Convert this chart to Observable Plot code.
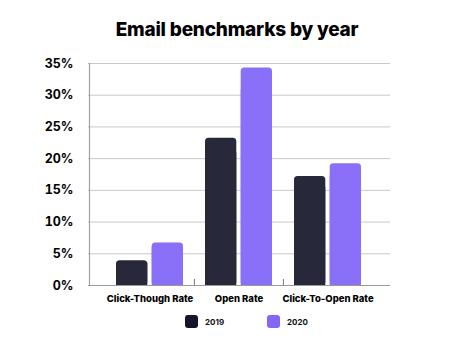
<!DOCTYPE html>
<html>
<head>
<meta charset="utf-8">
<script src="https://cdn.jsdelivr.net/npm/d3@7"></script>
<script src="https://cdn.jsdelivr.net/npm/@observablehq/plot@0.6"></script>
<style>
  html, body { margin: 0; padding: 0; background: #fff; }
  #wrap { width: 474px; height: 354px; position: relative; font-family: Inter, "Open Sans", sans-serif; }
  #title { height: 45px; box-sizing: border-box; padding-top: 19px; text-align: center; font-size: 19px; font-weight: 800; color: #000; letter-spacing: -0.2px; line-height: 21px; }
  #legend { position: absolute; top: 315px; left: 0; width: 474px; height: 14px; }
  .sw { position: absolute; top: 0; width: 13px; height: 13px; border-radius: 3px; }
  .lt { position: absolute; top: 2px; font-size: 8px; font-weight: 700; color: #111; line-height: 10px; }
  svg { display: block; }
</style>
</head>
<body>
<div id="wrap">
  <div id="title">Email benchmarks by year</div>
  <div id="chart"></div>
  <div id="legend"></div>
</div>
<script>
const categories = ["Click-Though Rate", "Open Rate", "Click-To-Open Rate"];
const years = ["2019", "2020"];
const values2019 = [3.9, 23.2, 17.2];
const values2020 = [6.7, 34.3, 19.2];
const yTicks = [0, 5, 10, 15, 20, 25, 30, 35];
const colors = ["#272839", "#8a6ff8"];
const legendColors = ["#16142a", "#8566f7"];

const rows2019 = categories.map((c, i) => ({category: c, year: "2019", value: values2019[i]}));
const rows2020 = categories.map((c, i) => ({category: c, year: "2020", value: values2020[i]}));

const half = 35.7;
const chart = Plot.plot({
  width: 474,
  height: 262,
  marginLeft: 88,
  marginRight: 84,
  marginTop: 18,
  marginBottom: 22,
  style: {fontFamily: "Inter, 'Open Sans', sans-serif", color: "#000", background: "#fff"},
  x: {domain: categories, paddingInner: 0.245, paddingOuter: 0.314, label: null},
  y: {domain: [0, 35], label: null},
  marks: [
    Plot.ruleY(yTicks.slice(1), {stroke: "#c9c9c9", strokeWidth: 1}),
    Plot.barY(rows2019, {x: "category", y: "value", fill: colors[0], insetRight: half, rx: 3.5}),
    Plot.barY(rows2019, {x: "category", y: d => d.value * 0.9, fill: colors[0], insetRight: half}),
    Plot.barY(rows2020, {x: "category", y: "value", fill: colors[1], insetLeft: half, rx: 3.5}),
    Plot.barY(rows2020, {x: "category", y: d => d.value * 0.9, fill: colors[1], insetLeft: half}),
    Plot.ruleX(categories.slice(1), {x: d => d, dx: -44.6, insetTop: 216, stroke: "#777"}),
    Plot.ruleY([0], {stroke: "#9a9a9a", strokeWidth: 1.2}),
    Plot.axisX({tickSize: 0, tickPadding: 10, fontSize: 9.5, fontWeight: 800, label: null}),
    Plot.axisY({ticks: yTicks, tickFormat: d => d + "%", tickSize: 0, tickPadding: 15, fontSize: 12.5, fontWeight: 700, label: null}),
    Plot.ruleX([categories[0]], {x: d => d, dx: -60.5, stroke: "#a0a0a0", strokeWidth: 1.2, y1: 0, y2: 35})
  ]
});
document.getElementById("chart").appendChild(chart);

const legend = document.getElementById("legend");
const pos = [[185, 205], [266.5, 287]];
years.forEach((y, i) => {
  const s = document.createElement("div");
  s.className = "sw";
  s.style.left = pos[i][0] + "px";
  s.style.background = legendColors[i];
  legend.appendChild(s);
  const t = document.createElement("div");
  t.className = "lt";
  t.style.left = pos[i][1] + "px";
  t.textContent = y;
  legend.appendChild(t);
});
</script>
</body>
</html>
